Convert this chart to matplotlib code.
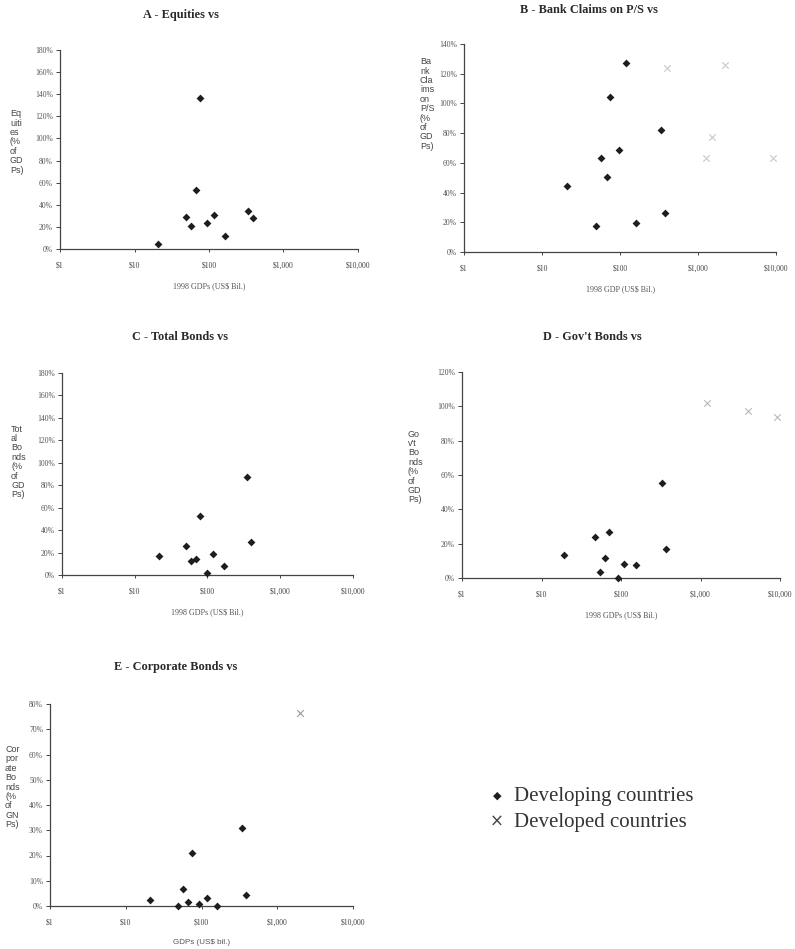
import matplotlib
matplotlib.use("Agg")
import matplotlib.pyplot as plt

W, H = 795, 949

# ---- data (GDP in US$ bil., share in % of GDP)
eq_gdp = [20.7, 49, 56.6, 67.5, 76.4, 94, 115.6, 166, 329, 392]
eq_pct = [4.5, 28.6, 20.8, 53.6, 137, 23.5, 30.4, 12, 34.6, 27.7]

bank_gdp = [118, 74.5, 339, 96, 57, 68, 20.7, 49, 160, 378]
bank_pct = [127, 104, 82.3, 68.7, 63, 50.3, 44.6, 17.3, 19.3, 26.5]
bank_dev_gdp = [397, 2220, 1497, 1260, 9060]
bank_dev_pct = [124, 125.6, 77.4, 63.3, 63.5]

tot_gdp = [21.5, 50.6, 58.7, 70.2, 78, 97.3, 119, 167, 349, 400]
tot_pct = [16.9, 25.5, 12.2, 14.5, 52.8, 1.5, 18.7, 7.7, 86.9, 29]

gov_gdp = [19.3, 47.4, 71, 63.2, 54.7, 90.4, 109.6, 156.6, 326, 366]
gov_pct = [13.5, 24, 26.9, 11.8, 3.7, 0, 8.1, 7.5, 55.2, 17]
gov_dev_gdp = [1198, 3985, 9080]
gov_dev_pct = [102, 97.5, 94]

corp_gdp = [20.6, 48.7, 57.2, 66.6, 76, 94.1, 116.5, 162.6, 338, 389]
corp_pct = [2.5, 0.1, 6.6, 1.7, 20.9, 0.9, 3, 0, 30.8, 4.4]
corp_dev_gdp = [2014]
corp_dev_pct = [76.4]

x_ticks = [1, 10, 100, 1000, 10000]
x_labels = ["$1", "$10", "$100", "$1,000", "$10,000"]

SERIF = "Liberation Serif"
SANS = "Liberation Sans"

fig = plt.figure(figsize=(W / 100, H / 100), dpi=100)


def px_axes(x0, x1, ytop, ybot):
    return fig.add_axes([x0 / W, 1 - ybot / H, (x1 - x0) / W, (ybot - ytop) / H])


def panel(box, gdp, pct, ymax, ystep, ylab, ylab_xy, xlab, xlab_font,
          title, title_xy, dev_gdp=None, dev_pct=None, dev_color="#c8c8c8"):
    ax = px_axes(*box)
    ax.set_xscale("log")
    ax.set_xlim(1, 10000)
    ax.set_ylim(0, ymax)
    ax.set_xticks(x_ticks)
    ax.set_xticklabels(x_labels)
    ax.minorticks_off()
    yt = list(range(0, ymax + 1, ystep))
    ax.set_yticks(yt)
    ax.set_yticklabels([f"{v}%" for v in yt])
    for s in ["top", "right"]:
        ax.spines[s].set_visible(False)
    for s in ["left", "bottom"]:
        ax.spines[s].set_color("#444444")
        ax.spines[s].set_linewidth(0.9)
    ax.tick_params(axis="y", length=3, width=0.7, color="#444444", pad=2,
                   labelsize=5.5, labelcolor="#555555")
    ax.tick_params(axis="x", length=2, width=0.7, color="#444444", pad=7,
                   labelsize=5.5, labelcolor="#444444")
    for lb in ax.get_xticklabels() + ax.get_yticklabels():
        lb.set_fontfamily(SERIF)
    if dev_gdp:
        ax.scatter(dev_gdp, dev_pct, marker="x", s=22, color=dev_color,
                   linewidths=0.8, clip_on=False, zorder=2)
    ax.scatter(gdp, pct, marker="D", s=16, color="#1e1e1e", clip_on=False,
               zorder=3, linewidths=0)
    ax.set_xlabel(xlab, fontsize=5.8, color="#555555", family=xlab_font,
                  labelpad=9)
    fig.text(ylab_xy[0] / W, 1 - ylab_xy[1] / H, ylab, fontsize=6.5,
             family=SANS, color="#444444", ha="left", va="center",
             linespacing=1.05)
    fig.text(title_xy[0] / W, 1 - title_xy[1] / H, title, fontsize=8.8,
             family=SERIF, weight="bold", color="#2a2a2a", ha="center",
             va="center")
    return ax


panel((60, 358, 50, 249), eq_gdp, eq_pct, 180, 20,
      "Eq\nuiti\nes\n(%\nof\nGD\nPs)", (10, 142),
      "1998 GDPs (US$ Bil.)", SERIF, "A - Equities vs", (181, 15))

panel((464, 776, 44, 252), bank_gdp, bank_pct, 140, 20,
      "Ba\nnk\nCla\nims\non\nP/S\n(%\nof\nGD\nPs)", (420, 104),
      "1998 GDP (US$ Bil.)", SERIF, "B - Bank Claims on P/S vs", (589, 10),
      bank_dev_gdp, bank_dev_pct)

panel((62, 353, 373, 575), tot_gdp, tot_pct, 180, 20,
      "Tot\nal\nBo\nnds\n(%\nof\nGD\nPs)", (11, 462),
      "1998 GDPs (US$ Bil.)", SERIF, "C - Total Bonds vs", (180, 337))

panel((462, 780, 372, 578), gov_gdp, gov_pct, 120, 20,
      "Go\nv't\nBo\nnds\n(%\nof\nGD\nPs)", (408, 467),
      "1998 GDPs (US$ Bil.)", SERIF, "D - Gov't Bonds vs", (592, 337),
      gov_dev_gdp, gov_dev_pct, "#b8b8b8")

panel((50, 353, 704, 906), corp_gdp, corp_pct, 80, 10,
      "Cor\npor\nate\nBo\nnds\n(%\nof\nGN\nPs)", (5, 787),
      "GDPs (US$ bil.)", SANS, "E - Corporate Bonds vs", (176, 667),
      corp_dev_gdp, corp_dev_pct, "#999999")

# legend drawn as text beside markers
fig.text(497 / W, 1 - 796 / H, "\u25c6", fontsize=8, color="#1e1e1e",
         ha="center", va="center", family="DejaVu Sans")
fig.text(497 / W, 1 - 822 / H, "\u00d7", fontsize=12, color="#444444",
         ha="center", va="center", family="DejaVu Sans")
fig.text(514 / W, 1 - 796 / H, "Developing countries", fontsize=15,
         family=SERIF, color="#333333", ha="left", va="center")
fig.text(514 / W, 1 - 822 / H, "Developed countries", fontsize=15,
         family=SERIF, color="#333333", ha="left", va="center")

fig.savefig("out.png", dpi=100)
